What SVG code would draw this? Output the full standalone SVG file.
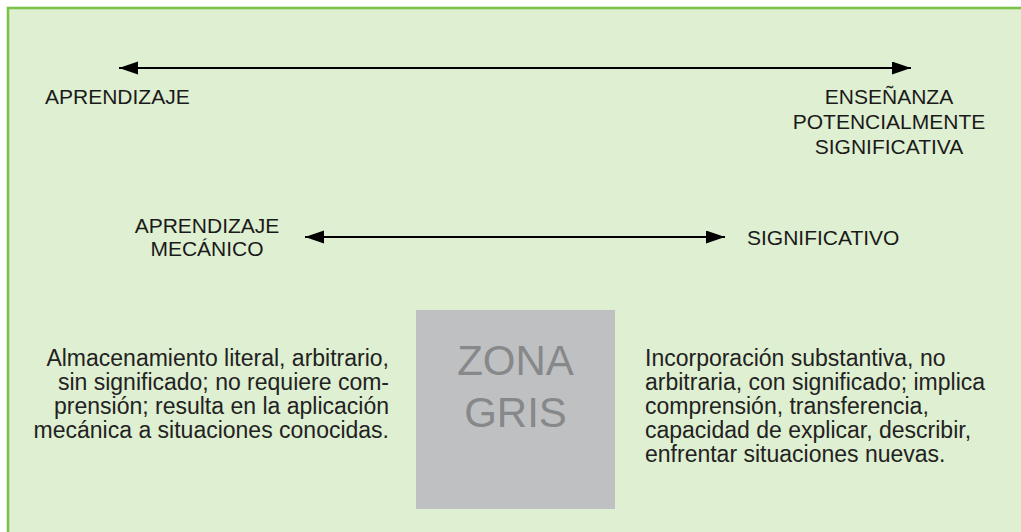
<svg xmlns="http://www.w3.org/2000/svg" width="1021" height="532" viewBox="0 0 1021 532">
<style>
.lbl{font-family:"Liberation Sans",Arial,sans-serif;font-size:21px;fill:#1a1a1a}
.body{font-family:"Liberation Sans",Arial,sans-serif;font-size:23px;fill:#222222}
.zona{font-family:"Liberation Sans",Arial,sans-serif;font-size:42px;fill:#878889;text-anchor:middle}
.conn{stroke:#000;stroke-width:2.2;fill:none}
</style>
<defs>
<marker id="ah" markerUnits="userSpaceOnUse" markerWidth="20" markerHeight="14" refX="19" refY="6.5" orient="auto-start-reverse">
<path d="M0,0 L19,6.5 L0,13 Z" fill="#000"/>
</marker>
</defs>
<rect x="0" y="0" width="1021" height="532" fill="#ffffff"/>
<rect id="frame" x="8" y="8" width="1030" height="540" fill="#dfefd1" stroke="#7cc14a" stroke-width="2.6"/>
<g id="connectors">
<line class="conn" x1="119" y1="68" x2="911" y2="68" marker-start="url(#ah)" marker-end="url(#ah)"/>
<line class="conn" x1="305" y1="237" x2="725" y2="237" marker-start="url(#ah)" marker-end="url(#ah)"/>
</g>
<g id="aprendizaje">
<text class="lbl" x="45" y="104">APRENDIZAJE</text>
</g>
<g id="ensenanza">
<text class="lbl" text-anchor="middle" x="889" y="104">ENSEÑANZA</text>
<text class="lbl" text-anchor="middle" x="889" y="129">POTENCIALMENTE</text>
<text class="lbl" text-anchor="middle" x="889" y="154">SIGNIFICATIVA</text>
</g>
<g id="mecanico">
<text class="lbl" text-anchor="middle" x="207" y="233">APRENDIZAJE</text>
<text class="lbl" text-anchor="middle" x="207" y="256">MECÁNICO</text>
</g>
<g id="significativo">
<text class="lbl" x="747" y="245">SIGNIFICATIVO</text>
</g>
<g id="texto-mecanico">
<text class="body" text-anchor="end" x="389" y="366">Almacenamiento literal, arbitrario,</text>
<text class="body" text-anchor="end" x="389" y="390">sin significado; no requiere com-</text>
<text class="body" text-anchor="end" x="389" y="414">prensión; resulta en la aplicación</text>
<text class="body" text-anchor="end" x="389" y="438">mecánica a situaciones conocidas.</text>
</g>
<g id="zona-gris">
<rect x="416" y="310" width="199" height="199" fill="#bfc0c2"/>
<text class="zona" x="515.5" y="375">ZONA</text>
<text class="zona" x="515.5" y="427">GRIS</text>
</g>
<g id="texto-significativo">
<text class="body" x="645" y="366">Incorporación substantiva, no</text>
<text class="body" x="645" y="390">arbitraria, con significado; implica</text>
<text class="body" x="645" y="414">comprensión, transferencia,</text>
<text class="body" x="645" y="438">capacidad de explicar, describir,</text>
<text class="body" x="645" y="462">enfrentar situaciones nuevas.</text>
</g>
</svg>
